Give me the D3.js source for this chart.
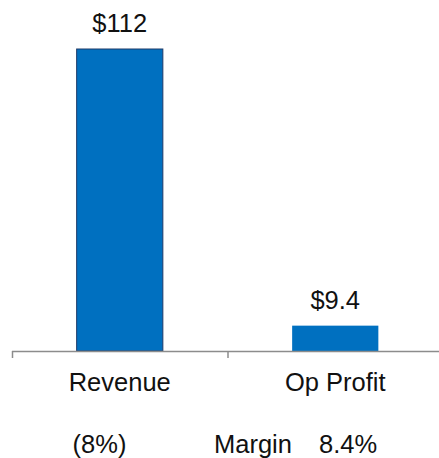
<!DOCTYPE html>
<html>
<head>
<meta charset="utf-8">
<script src="https://cdn.jsdelivr.net/npm/d3@7"></script>
<style>
  body { margin: 0; background: #fff; }
  text { font-family: Arial, "Liberation Sans", sans-serif; fill: #111; }
</style>
</head>
<body>
<script>
// chart data
const categories = ["Revenue", "Op Profit"];
const values = [112, 9.4];
const valueLabels = ["$112", "$9.4"];
const footLabels = ["(8%)", "Margin", "8.4%"];

const W = 439, H = 458,
      baseY = 351, topY = 49,
      fs = "25.5px";

const svg = d3.select("body").append("svg")
    .attr("width", W)
    .attr("height", H);

// one slot per category, bar sits in the middle 40%
const x = d3.scaleBand().domain(categories).range([12, 443]).padding(0);
const barW = x.bandwidth() * 0.4;
const y = d3.scaleLinear().domain([0, d3.max(values)]).range([baseY, topY]);

const data = categories.map((c, i) => ({ cat: c, v: values[i], lab: valueLabels[i] }));

// bars
svg.selectAll("rect.bar")
  .data(data)
  .enter().append("rect")
    .attr("class", "bar")
    .attr("x", d => x(d.cat) + (x.bandwidth() - barW) / 2)
    .attr("y", d => y(d.v))
    .attr("width", barW)
    .attr("height", d => y(0) - y(d.v))
    .attr("fill", "#0070C0")
    .attr("stroke", (d, i) => i === 0 ? "#1F3A68" : "none")
    .attr("stroke-width", 1);

// value labels
svg.selectAll("text.val")
  .data(data)
  .enter().append("text")
    .attr("class", "val")
    .attr("x", d => x(d.cat) + x.bandwidth() / 2)
    .attr("y", d => y(d.v) - 17)
    .attr("text-anchor", "middle")
    .style("font-size", fs)
    .text(d => d.lab);

// category axis: base line + ticks at band edges
const axis = svg.append("g");
axis.append("line")
    .attr("x1", x.range()[0]).attr("x2", W)
    .attr("y1", baseY + 0.5).attr("y2", baseY + 0.5)
    .attr("stroke", "#8c8c8c").attr("stroke-width", 1.5);
axis.selectAll("line.tick")
  .data(categories)
  .enter().append("line")
    .attr("class", "tick")
    .attr("x1", d => x(d) + 0.5).attr("x2", d => x(d) + 0.5)
    .attr("y1", baseY).attr("y2", baseY + 7)
    .attr("stroke", "#8c8c8c").attr("stroke-width", 1.5);
axis.selectAll("text.cat")
  .data(categories)
  .enter().append("text")
    .attr("class", "cat")
    .attr("x", d => x(d) + x.bandwidth() / 2)
    .attr("y", 391)
    .attr("text-anchor", "middle")
    .style("font-size", fs)
    .text(d => d);

// footer row
const foot = svg.append("g").style("font-size", fs);
foot.append("text").attr("x", 99.5).attr("y", 453)
    .attr("text-anchor", "middle").text(footLabels[0]);
foot.append("text").attr("x", 214).attr("y", 453).text(footLabels[1]);
foot.append("text").attr("x", 319).attr("y", 453).text(footLabels[2]);
</script>
</body>
</html>
